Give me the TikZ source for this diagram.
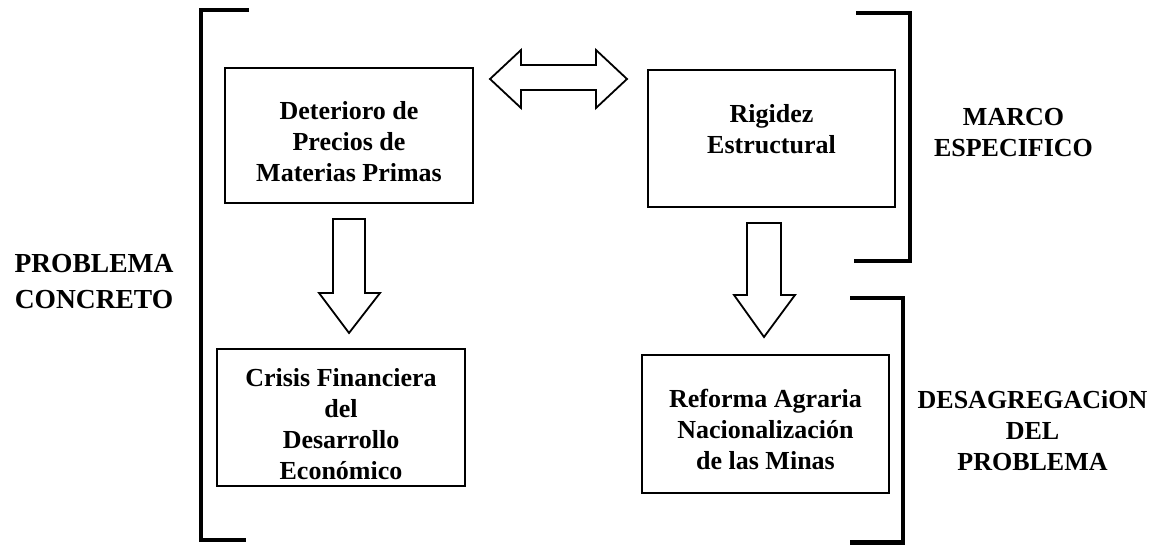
\documentclass[tikz,border=0pt]{standalone}
\usepackage{fontspec}
\setmainfont{Liberation Serif}
\begin{document}
\begin{tikzpicture}[x=1pt,y=-1pt,
  box/.style={draw, line width=1.8pt, rectangle, inner sep=0pt},
  lbl/.style={align=center, inner sep=0pt, font=\bfseries\fontsize{26}{31}\selectfont},
  side/.style={align=center, inner sep=0pt, font=\bfseries\fontsize{26}{31}\selectfont},
  blockarrow/.style={draw, line width=1.8pt, line join=miter, fill=white},
  brace/.style={draw, line width=4.5pt, line cap=butt, line join=miter}]
\useasboundingbox[fill=white] (0,0) rectangle (1166,545);

% boxes
\node[box, minimum width=248pt, minimum height=135pt] (b1) at (349,135.5) {};
\node[box, minimum width=247pt, minimum height=137pt] (b3) at (771.5,138.5) {};
\node[box, minimum width=248pt, minimum height=137pt] (b2) at (341,417.5) {};
\node[box, minimum width=247pt, minimum height=138pt] (b4) at (765.5,424) {};

% box texts
\node[lbl] (t1) at (349,142) {Deterioro de\\Precios de\\Materias Primas};
\node[lbl] (t3) at (771.5,129) {Rigidez\\Estructural};
\node[lbl] (t2) at (341,424) {Crisis Financiera\\del\\Desarrollo\\Económico};
\node[lbl] (t4) at (765.5,429) {Reforma Agraria\\Nacionalización\\de las Minas};

% side labels
\node[side, font=\bfseries\fontsize{27.5}{36}\selectfont] (pc) at (94,281.5) {PROBLEMA\\CONCRETO};
\node[side] (me) at (1013.5,132.5) {MARCO\\ESPECIFICO};
\node[side] (dp) at (1032.5,431) {DESAGREGACiON\\DEL\\PROBLEMA};

% double block arrow between b1 and b3
\draw[blockarrow] (490,79) -- (521,50) -- (521,65) -- (596,65) -- (596,50)
  -- (627,79) -- (596,108) -- (596,90) -- (521,90) -- (521,108) -- cycle;

% down block arrows
\draw[blockarrow] (333,219) -- (365,219) -- (365,293) -- (380,293) -- (349,333)
  -- (319,293) -- (333,293) -- cycle;
\draw[blockarrow] (747,223) -- (781,223) -- (781,295) -- (795,295) -- (764,337)
  -- (734,295) -- (747,295) -- cycle;

% brackets
\draw[brace] (249,10) -- (201,10) -- (201,540) -- (246,540);
\draw[brace] (856,13) -- (910,13) -- (910,261) -- (854,261);
\draw[brace] (850,298) -- (903,298) -- (903,542.5) -- (850,542.5);
\end{tikzpicture}
\end{document}
